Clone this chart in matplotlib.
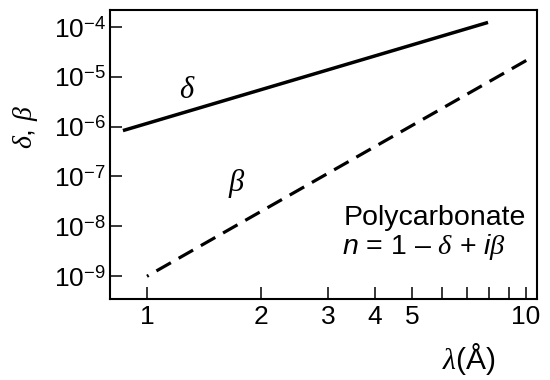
import numpy as np
import matplotlib
matplotlib.use("Agg")
import matplotlib.pyplot as plt

# Values (log-log straight lines)
wavelength_delta = [0.864, 7.94]
delta = [8.3e-7, 1.22e-4]
wavelength_beta = [1.0, 10.18]
beta = [1.0e-9, 2.26e-5]

xticks = [1, 2, 3, 4, 5, 6, 7, 8, 9, 10]
xtick_labels = ['1', '2', '3', '4', '5', '', '', '', '', '10']
yticks = [1e-9, 1e-8, 1e-7, 1e-6, 1e-5, 1e-4]
ytick_labels = [r'$10^{-9}$', r'$10^{-8}$', r'$10^{-7}$',
                r'$10^{-6}$', r'$10^{-5}$', r'$10^{-4}$']

plt.rcParams['font.family'] = ['Liberation Sans', 'DejaVu Sans']
plt.rcParams['mathtext.fontset'] = 'custom'
plt.rcParams['mathtext.rm'] = 'Liberation Sans'
plt.rcParams['mathtext.it'] = 'Liberation Serif:italic'
plt.rcParams['mathtext.sf'] = 'Liberation Sans:italic'
plt.rcParams['mathtext.bf'] = 'Liberation Sans:bold'

W, H = 550, 380
fig = plt.figure(figsize=(W / 100, H / 100), dpi=100)
ax = fig.add_axes([110 / W, 1 - 299 / H, (537.3 - 110) / W, (299 - 10) / H])

ax.plot(wavelength_delta, delta, color='black', lw=2.5, solid_capstyle='butt')
ax.plot(wavelength_beta, beta, color='black', lw=2.3,
        linestyle=(4.6, (5.2, 2.8)))

ax.set_xscale('log')
ax.set_yscale('log')
ax.set_xlim(10 ** -0.0976, 10 ** 1.0298)
ax.set_ylim(10 ** -9.455, 10 ** -3.665)

ax.set_xticks(xticks, xtick_labels)
ax.set_yticks(yticks, ytick_labels)
ax.minorticks_off()
ax.tick_params(direction='in', length=8.5, width=1.1, labelsize=19, pad=4)
ax.tick_params(axis='y', pad=3)

for sp in ax.spines.values():
    sp.set_linewidth(1.5)


def px(x, y):
    return x / W, 1 - y / H


fig.text(*px(25, 127), r'$\delta$, $\beta$', rotation=90, fontsize=20,
         ha='center', va='center')
fig.text(*px(469, 359), r'$\lambda$(Å)', fontsize=21.5, ha='center', va='center')
fig.text(*px(187, 90), r'$\delta$', fontsize=22, ha='center', va='center')
fig.text(*px(237, 183), r'$\beta$', fontsize=22, ha='center', va='center')
fig.text(*px(344, 225), 'Polycarbonate', fontsize=20.5, ha='left', va='baseline')
fig.text(*px(342, 254), r'$\mathsf{n}$ = 1 – $\delta$ + $\mathsf{i}\beta$',
         fontsize=20.5, ha='left', va='baseline')

fig.savefig('out.png', dpi=100, facecolor='white')
